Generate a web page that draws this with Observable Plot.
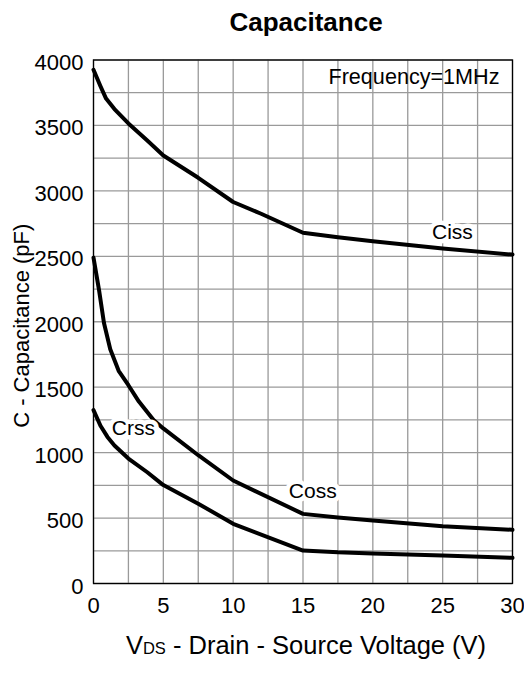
<!DOCTYPE html>
<html>
<head>
<meta charset="utf-8">
<script src="https://cdn.jsdelivr.net/npm/d3@7"></script>
<script src="https://cdn.jsdelivr.net/npm/@observablehq/plot@0.6"></script>
<style>
  html, body { margin: 0; padding: 0; background: #fff; }
  body { width: 524px; font-family: "Liberation Sans", Arial, sans-serif; color: #000; }
  #title { height: 40px; line-height: 44px; font-size: 26px; font-weight: bold; text-align: center; padding-left: 88px; box-sizing: border-box; overflow: visible; }
  #xlabel { height: 43px; line-height: 30px; font-size: 25.5px; text-align: center; padding-left: 88px; box-sizing: border-box; white-space: nowrap; }
  #xlabel .sub { font-size: 16.5px; }
  svg { display: block; }
</style>
</head>
<body>
<div id="title">Capacitance</div>
<div id="chart"></div>
<div id="xlabel">V<span class="sub">DS</span> - Drain - Source Voltage (V)</div>
<script>
// Data
const vdsCiss = [0, 0.5, 0.9, 1.5, 2.5, 3.85, 5, 7.5, 10, 12, 15, 17.5, 20, 25, 30];
const ciss    = [3925, 3800, 3705, 3625, 3515, 3385, 3270, 3100, 2915, 2825, 2680, 2645, 2615, 2560, 2513];

const vdsCoss = [0, 0.4, 0.75, 1.2, 1.8, 2.5, 3.25, 4.3, 5, 7.5, 10, 15, 17.5, 20, 25, 30];
const coss    = [2490, 2240, 1990, 1790, 1625, 1515, 1390, 1250, 1185, 980, 787, 532, 505, 482, 437, 410];

const vdsCrss = [0, 0.5, 1, 1.5, 2.5, 3.85, 5, 7.5, 10, 15, 17.5, 20, 25, 30];
const crss    = [1325, 1205, 1120, 1055, 955, 850, 752, 610, 456, 252, 238, 230, 214, 196];

const xTicks = [0, 5, 10, 15, 20, 25, 30];
const yTicks = [0, 500, 1000, 1500, 2000, 2500, 3000, 3500, 4000];
const xGrid = d3.range(0, 30.01, 2.5);
const yGrid = d3.range(0, 4000.1, 250);

const labelText = ["Ciss", "Coss", "Crss"];
const labelV    = [25.7, 15.7, 2.85];
const labelC    = [2681, 703, 1184];

const yLabel = "C - Capacitance (pF)";
const freqLabel = "Frequency=1MHz";

const rows = [
  ...vdsCiss.map((v, i) => ({series: "Ciss", v, c: ciss[i]})),
  ...vdsCoss.map((v, i) => ({series: "Coss", v, c: coss[i]})),
  ...vdsCrss.map((v, i) => ({series: "Crss", v, c: crss[i]}))
];
const labels = labelText.map((t, i) => ({t, v: labelV[i], c: labelC[i]}));

const chart = Plot.plot({
  width: 524,
  height: 590,
  marginLeft: 93,
  marginRight: 12,
  marginTop: 19.5,
  marginBottom: 47,
  style: {fontFamily: "'Liberation Sans', Arial, sans-serif", color: "#000", background: "#fff"},
  x: {domain: [0, 30]},
  y: {domain: [0, 4000]},
  marks: [
    Plot.gridX(xGrid, {stroke: "#9a9a9a", strokeOpacity: 1, strokeWidth: 1.3}),
    Plot.gridY(yGrid, {stroke: "#9a9a9a", strokeOpacity: 1, strokeWidth: 1.3}),
    Plot.frame({stroke: "#000", strokeWidth: 1.3}),
    Plot.axisX({ticks: xTicks, tickSize: 0, tickPadding: 14, fontSize: 22, label: null, tickFormat: d => String(d)}),
    Plot.axisY({ticks: yTicks, tickSize: 0, tickPadding: 10, fontSize: 22, label: null, dy: 3, tickFormat: d => String(d)}),
    Plot.line(rows, {x: "v", y: "c", z: "series", stroke: "#000", strokeWidth: 4, strokeLinejoin: "round", strokeLinecap: "round"}),
    Plot.text(labels, {x: "v", y: "c", text: "t", fill: "#000", stroke: "#fff", strokeWidth: 9, fontSize: 21, lineAnchor: "middle"}),
    Plot.text([freqLabel], {frameAnchor: "top-right", text: d => d, textAnchor: "end", lineAnchor: "middle", dx: -13, dy: 17.5, fontSize: 21.6, fill: "#000"}),
    Plot.text([yLabel], {frameAnchor: "left", text: d => d, rotate: -90, textAnchor: "middle", lineAnchor: "bottom", dx: -65, dy: 4, fontSize: 22, fill: "#000"})
  ]
});
document.getElementById("chart").appendChild(chart);
</script>
</body>
</html>
